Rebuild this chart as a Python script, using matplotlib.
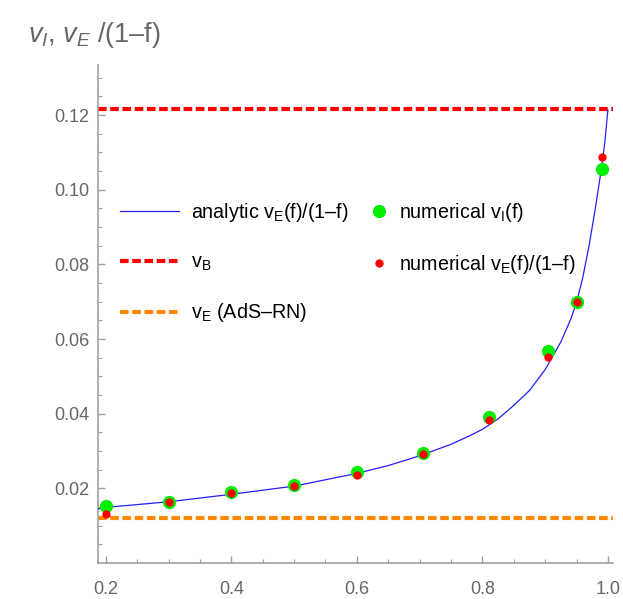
import numpy as np
import matplotlib
matplotlib.use("Agg")
from matplotlib import pyplot as plt

# fonts: narrow sans if present, else Liberation Sans
fam = ['Liberation Sans Narrow', 'Liberation Sans', 'DejaVu Sans']
plt.rcParams['font.family'] = fam
plt.rcParams['mathtext.fontset'] = 'custom'
plt.rcParams['mathtext.rm'] = 'Liberation Sans'
plt.rcParams['mathtext.it'] = 'Liberation Sans:italic'
plt.rcParams['lines.scale_dashes'] = False

# analytic curve v_E(f)/(1-f)
f_curve = [0.187, 0.2, 0.3, 0.4, 0.5, 0.6, 0.65, 0.7, 0.75, 0.78, 0.8, 0.825,
           0.85, 0.875, 0.9, 0.925, 0.94, 0.95, 0.96, 0.97, 0.98, 0.99, 0.995, 1.0]
v_curve = [0.0145, 0.0149, 0.0164, 0.0184, 0.0206, 0.0240, 0.0261, 0.0287,
           0.0318, 0.0341, 0.0358, 0.0386, 0.0422, 0.0462, 0.0518, 0.0592,
           0.0650, 0.0697, 0.0765, 0.0850, 0.0950, 0.1060, 0.1125, 0.1214]

# numerical points
f_num = [0.2, 0.3, 0.4, 0.5, 0.6, 0.705, 0.81, 0.905, 0.95, 0.99]
v_I = [0.0153, 0.0164, 0.0189, 0.0210, 0.0243, 0.0294, 0.0391, 0.0568, 0.0700, 0.1056]
v_E_ratio = [0.0131, 0.0163, 0.0187, 0.0207, 0.0237, 0.0293, 0.0383, 0.0553, 0.0699, 0.1088]

v_B = 0.1215
v_E_adsrn = 0.0121

fig = plt.figure(figsize=(6.23, 5.99), dpi=100)
ax = fig.add_axes([0.1568, 0.0601, 0.827, 0.8314])

l_an, = ax.plot(f_curve, v_curve, color='#2020ff', lw=0.9, zorder=3)
l_b = ax.axhline(v_B, color='#ff0000', lw=3.0, dashes=(6.2, 2.6), zorder=2)
l_e = ax.axhline(v_E_adsrn, color='#ff8800', lw=3.0, dashes=(6.2, 2.6), zorder=2)
p_i, = ax.plot(f_num, v_I, 'o', color='#00ee00', ms=9.5, mec='none', zorder=4)
p_e, = ax.plot(f_num, v_E_ratio, 'o', color='#ff0000', ms=6, mec='none', zorder=5)

ax.set_xlim(0.187, 1.008)
ax.set_ylim(0.0, 0.1334)
ax.set_xticks([0.2, 0.4, 0.6, 0.8, 1.0])
ax.set_xticklabels(['0.2', '0.4', '0.6', '0.8', '1.0'])
ax.set_xticks(np.arange(0.2, 1.001, 0.05), minor=True)
ax.set_yticks([0.02, 0.04, 0.06, 0.08, 0.10, 0.12])
ax.set_yticklabels(['0.02', '0.04', '0.06', '0.08', '0.10', '0.12'])
ax.set_yticks(np.arange(0.005, 0.1331, 0.005), minor=True)

for s in ['top', 'right']:
    ax.spines[s].set_visible(False)
for s in ['left', 'bottom']:
    ax.spines[s].set_color('#a0a0a0')
    ax.spines[s].set_linewidth(1.2)
ax.tick_params(which='major', direction='in', length=5, width=1, color='#a0a0a0',
               labelcolor='#666666', labelsize=13)
ax.tick_params(which='minor', direction='in', length=3, width=0.8, color='#a0a0a0')
ax.tick_params(axis='x', pad=13)
ax.tick_params(axis='y', pad=6)

fig.text(28/623, 1-42/599, r'$\mathit{v_I}$, $\mathit{v_E}$ /(1–f)', fontsize=19.5,
         color='#666666', ha='left', va='baseline')

leg1 = ax.legend([l_an, l_b, l_e],
                 [r'analytic $\mathregular{v_E}$(f)/(1–f)', r'$\mathregular{v_B}$',
                  r'$\mathregular{v_E}$ (AdS–RN)'],
                 loc='upper left', bbox_to_anchor=(0.043, 0.727), frameon=False,
                 fontsize=14.2, borderpad=0, borderaxespad=0, handlelength=3.0,
                 handletextpad=0.6, labelspacing=1.45)
ax.add_artist(leg1)
ax.legend([p_i, p_e],
          [r'numerical $\mathregular{v_I}$(f)', r'numerical $\mathregular{v_E}$(f)/(1–f)'],
          loc='upper left', bbox_to_anchor=(0.527, 0.727), frameon=False,
          fontsize=14.2, borderpad=0, borderaxespad=0, handlelength=1.0,
          handletextpad=0.5, labelspacing=1.45)

fig.savefig('out.png', dpi=100)
